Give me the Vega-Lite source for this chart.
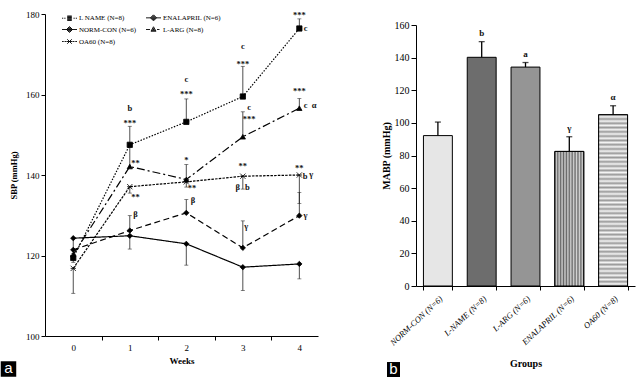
{
 "$schema": "https://vega.github.io/schema/vega-lite/v6.json",
 "background": "white",
 "padding": {"left": 0, "top": 10, "right": 5, "bottom": 0},
 "spacing": 63,
 "config": {
  "font": "Liberation Serif",
  "view": {"stroke": null},
  "axis": {"grid": false, "domainColor": "#000", "tickColor": "#000", "labelColor": "#000", "titleColor": "#000", "labelFont": "Liberation Serif", "titleFont": "Liberation Serif", "domainWidth": 1, "tickWidth": 1}
 },
 "hconcat": [
  {
   "width": 273, "height": 322,
   "data": {"values": [
    {"group": "L NAME (N=8)", "week": 0, "sbp": 119.4, "err": 118.3},
    {"group": "L NAME (N=8)", "week": 1, "sbp": 147.5, "err": 152.1},
    {"group": "L NAME (N=8)", "week": 2, "sbp": 153.2, "err": 158.9},
    {"group": "L NAME (N=8)", "week": 3, "sbp": 159.5, "err": 167.0},
    {"group": "L NAME (N=8)", "week": 4, "sbp": 176.4, "err": 178.8},
    {"group": "L-ARG (N=8)", "week": 0, "sbp": 120.2, "err": null},
    {"group": "L-ARG (N=8)", "week": 1, "sbp": 142.1, "err": 147.0},
    {"group": "L-ARG (N=8)", "week": 2, "sbp": 138.9, "err": 142.6},
    {"group": "L-ARG (N=8)", "week": 3, "sbp": 149.5, "err": 155.7},
    {"group": "L-ARG (N=8)", "week": 4, "sbp": 156.6, "err": 159.0},
    {"group": "OA60 (N=8)", "week": 0, "sbp": 116.8, "err": 110.6},
    {"group": "OA60 (N=8)", "week": 1, "sbp": 137.1, "err": 135.5},
    {"group": "OA60 (N=8)", "week": 2, "sbp": 138.3, "err": 137.0},
    {"group": "OA60 (N=8)", "week": 3, "sbp": 139.7, "err": 136.5},
    {"group": "OA60 (N=8)", "week": 4, "sbp": 140.0, "err": 132.9},
    {"group": "ENALAPRIL (N=6)", "week": 0, "sbp": 121.4, "err": null},
    {"group": "ENALAPRIL (N=6)", "week": 1, "sbp": 126.2, "err": 129.9},
    {"group": "ENALAPRIL (N=6)", "week": 2, "sbp": 130.6, "err": 133.9},
    {"group": "ENALAPRIL (N=6)", "week": 3, "sbp": 121.9, "err": 128.6},
    {"group": "ENALAPRIL (N=6)", "week": 4, "sbp": 129.9, "err": 135.7},
    {"group": "NORM-CON (N=6)", "week": 0, "sbp": 124.3, "err": 120.5},
    {"group": "NORM-CON (N=6)", "week": 1, "sbp": 124.9, "err": 121.6},
    {"group": "NORM-CON (N=6)", "week": 2, "sbp": 122.9, "err": 117.6},
    {"group": "NORM-CON (N=6)", "week": 3, "sbp": 117.1, "err": 111.3},
    {"group": "NORM-CON (N=6)", "week": 4, "sbp": 117.9, "err": 114.2}
   ]},
   "layer": [
    {
     "mark": {"type": "line", "color": "#000", "strokeWidth": 1.2},
     "encoding": {
      "x": {"field": "week", "type": "quantitative", "scale": {"domain": [-0.5, 4.33], "nice": false, "zero": false},
            "axis": {"orient": "bottom", "values": [0, 1, 2, 3, 4], "format": "d", "ticks": false, "title": "Weeks", "labelFontSize": 9, "titleFontSize": 9, "titleFontWeight": "bold", "labelPadding": 7, "titlePadding": 4}},
      "y": {"field": "sbp", "type": "quantitative", "scale": {"domain": [100, 180], "nice": false, "zero": false},
            "axis": {"values": [100, 120, 140, 160, 180], "title": "SBP (mmHg)", "labelFontSize": 9, "titleFontSize": 8.5, "titleFontWeight": "bold", "tickSize": 4, "labelPadding": 2, "titlePadding": 7}},
      "strokeDash": {"field": "group", "type": "nominal",
            "scale": {"domain": ["L NAME (N=8)", "ENALAPRIL (N=6)", "NORM-CON (N=6)", "L-ARG (N=8)", "OA60 (N=8)"], "range": [[1.5, 1.5], [6, 3.5], [1, 0], [8, 3, 2, 3], [2.5, 1.2]]},
            "legend": null}
     }
    },
    {
     "transform": [{"filter": "datum.err != null"}],
     "mark": {"type": "rule", "color": "#222", "strokeWidth": 0.8},
     "encoding": {
      "x": {"field": "week", "type": "quantitative", "axis": {"orient": "bottom", "values": [0.5, 1.5, 2.5, 3.5], "labels": false, "domain": false, "tickSize": 4, "title": null}},
      "y": {"field": "sbp", "type": "quantitative", "axis": {"values": [100, 120, 140, 160, 180], "title": "SBP (mmHg)", "labelFontSize": 9, "titleFontSize": 8.5, "titleFontWeight": "bold", "tickSize": 4, "labelPadding": 2, "titlePadding": 7}},
      "y2": {"field": "err"}
     }
    },
    {
     "transform": [{"filter": "datum.err != null"}],
     "mark": {"type": "tick", "orient": "horizontal", "color": "#222", "size": 4, "thickness": 0.8},
     "encoding": {
      "x": {"field": "week", "type": "quantitative", "axis": null},
      "y": {"field": "err", "type": "quantitative", "axis": {"values": [100, 120, 140, 160, 180], "title": "SBP (mmHg)", "labelFontSize": 9, "titleFontSize": 8.5, "titleFontWeight": "bold", "tickSize": 4, "labelPadding": 2, "titlePadding": 7}}
     }
    },
    {
     "mark": {"type": "point", "filled": true, "size": 28, "fill": "#000", "stroke": "#000", "strokeWidth": 0.8, "opacity": 1},
     "encoding": {
      "x": {"field": "week", "type": "quantitative", "axis": null},
      "y": {"field": "sbp", "type": "quantitative", "axis": {"values": [100, 120, 140, 160, 180], "title": "SBP (mmHg)", "labelFontSize": 9, "titleFontSize": 8.5, "titleFontWeight": "bold", "tickSize": 4, "labelPadding": 2, "titlePadding": 7}},
      "shape": {"field": "group", "type": "nominal",
            "scale": {"domain": ["L NAME (N=8)", "ENALAPRIL (N=6)", "NORM-CON (N=6)", "L-ARG (N=8)", "OA60 (N=8)"], "range": ["square", "diamond", "diamond", "triangle-up", "M-1,-1L1,1M-1,1L1,-1M-1,0L1,0"]},
            "legend": null}
     }
    },
    {
     "mark": {"type": "point", "filled": false, "opacity": 0, "color": "#000", "strokeWidth": 0.9},
     "encoding": {
      "x": {"field": "week", "type": "quantitative", "axis": null},
      "y": {"field": "sbp", "type": "quantitative", "axis": {"values": [100, 120, 140, 160, 180], "title": "SBP (mmHg)", "labelFontSize": 9, "titleFontSize": 8.5, "titleFontWeight": "bold", "tickSize": 4, "labelPadding": 2, "titlePadding": 7}},
      "shape": {"field": "group", "type": "nominal",
            "scale": {"domain": ["L NAME (N=8)", "ENALAPRIL (N=6)", "NORM-CON (N=6)", "L-ARG (N=8)", "OA60 (N=8)"],
                      "range": [
                       "M-1.5,0h0.25M-1.05,0h0.25M0.8,0h0.25M1.25,0h0.25M-0.45,-0.45h0.9M-0.45,-0.3h0.9M-0.45,-0.15h0.9M-0.45,0h0.9M-0.45,0.15h0.9M-0.45,0.3h0.9M-0.45,0.45h0.9",
                       "M-1.5,0H1.5M0,-0.6L0.6,0L0,0.6L-0.6,0ZM-0.4,-0.17h0.8M-0.4,0.17h0.8M-0.2,-0.35h0.4M-0.2,0.35h0.4",
                       "M-1.5,0H1.5M0,-0.6L0.6,0L0,0.6L-0.6,0ZM-0.4,-0.17h0.8M-0.4,0.17h0.8M-0.2,-0.35h0.4M-0.2,0.35h0.4",
                       "M-1.5,0h0.8M0.7,0h0.5M0,-0.55L0.5,0.35L-0.5,0.35ZM-0.35,0.18h0.7M-0.2,0h0.4M-0.08,-0.18h0.16",
                       "M-1.5,0h0.35M-1,0h0.35M0.65,0h0.35M1.15,0h0.35M-0.45,-0.45L0.45,0.45M-0.45,0.45L0.45,-0.45M-0.6,0H0.6"
                      ]},
            "legend": {"title": null, "orient": "none", "legendX": 19, "legendY": -2, "columns": 2, "direction": "horizontal", "symbolSize": 100, "symbolStrokeColor": "#000", "symbolStrokeWidth": 0.9, "symbolOpacity": 1, "labelFontSize": 7, "labelFont": "Liberation Serif", "labelColor": "#000", "labelOffset": 4, "columnPadding": 7, "rowPadding": 1, "labelLimit": 200}}
     }
    },
    {
     "data": {"values": [
      {"week": 1, "sbp": 156.6, "t": "b"}, {"week": 1, "sbp": 153.7, "t": "***"}, {"week": 1.1, "sbp": 143.7, "t": "**"}, {"week": 1.1, "sbp": 135.3, "t": "**"}, {"week": 1.1, "sbp": 130.3, "t": "β"},
      {"week": 2, "sbp": 163.9, "t": "c"}, {"week": 2, "sbp": 160.9, "t": "***"}, {"week": 2, "sbp": 144.4, "t": "*"}, {"week": 2.1, "sbp": 137.5, "t": "**"}, {"week": 2.12, "sbp": 133.9, "t": "β"},
      {"week": 3, "sbp": 172.1, "t": "c"}, {"week": 3, "sbp": 168.4, "t": "***"}, {"week": 3.11, "sbp": 157.0, "t": "c"}, {"week": 3.11, "sbp": 154.7, "t": "***"}, {"week": 3, "sbp": 142.9, "t": "**"}, {"week": 2.91, "sbp": 137.0, "t": "β"}, {"week": 3.08, "sbp": 137.0, "t": "b"}, {"week": 3.06, "sbp": 127.4, "t": "γ"},
      {"week": 4, "sbp": 180.6, "t": "***"}, {"week": 4.11, "sbp": 176.4, "t": "c"}, {"week": 4, "sbp": 161.5, "t": "***"}, {"week": 4.11, "sbp": 157.4, "t": "c"}, {"week": 4.26, "sbp": 157.4, "t": "α"}, {"week": 4, "sbp": 142.4, "t": "**"}, {"week": 4.1, "sbp": 139.7, "t": "b"}, {"week": 4.21, "sbp": 140.2, "t": "γ"}, {"week": 4.11, "sbp": 130.0, "t": "γ"}
     ]},
     "layer": [
      {
       "transform": [{"filter": "indexof(datum.t, '*') < 0"}],
       "mark": {"type": "text", "fontSize": 8.5, "fontWeight": "bold", "color": "#111"},
       "encoding": {
        "x": {"field": "week", "type": "quantitative", "axis": null},
        "y": {"field": "sbp", "type": "quantitative", "axis": {"values": [100, 120, 140, 160, 180], "title": "SBP (mmHg)", "labelFontSize": 9, "titleFontSize": 8.5, "titleFontWeight": "bold", "tickSize": 4, "labelPadding": 2, "titlePadding": 7}},
        "text": {"field": "t"}
       }
      },
      {
       "transform": [{"filter": "indexof(datum.t, '*') >= 0"}],
       "mark": {"type": "text", "fontSize": 8.5, "fontWeight": "bold", "color": "#111", "dy": 3},
       "encoding": {
        "x": {"field": "week", "type": "quantitative", "axis": null},
        "y": {"field": "sbp", "type": "quantitative", "axis": {"values": [100, 120, 140, 160, 180], "title": "SBP (mmHg)", "labelFontSize": 9, "titleFontSize": 8.5, "titleFontWeight": "bold", "tickSize": 4, "labelPadding": 2, "titlePadding": 7}},
        "text": {"field": "t"}
       }
      }
     ]
    },
    {
     "data": {"values": [{"panel": "a"}]},
     "layer": [
      {
       "mark": {"type": "point", "shape": "square", "filled": true, "size": 240, "color": "#000", "opacity": 1},
       "encoding": {
        "x": {"datum": -1.146, "type": "quantitative", "scale": {"domain": [-0.5, 4.33], "nice": false, "zero": false}, "axis": null},
        "y": {"datum": 91.8, "type": "quantitative", "scale": {"domain": [100, 180], "nice": false, "zero": false}, "axis": {"values": [100, 120, 140, 160, 180], "title": "SBP (mmHg)", "labelFontSize": 9, "titleFontSize": 8.5, "titleFontWeight": "bold", "tickSize": 4, "labelPadding": 2, "titlePadding": 7}}
       }
      },
      {
       "mark": {"type": "text", "font": "Liberation Sans", "fontSize": 15, "color": "#fff", "baseline": "middle", "dy": -1},
       "encoding": {
        "x": {"datum": -1.146, "type": "quantitative", "scale": {"domain": [-0.5, 4.33], "nice": false, "zero": false}, "axis": null},
        "y": {"datum": 91.8, "type": "quantitative", "scale": {"domain": [100, 180], "nice": false, "zero": false}, "axis": {"values": [100, 120, 140, 160, 180], "title": "SBP (mmHg)", "labelFontSize": 9, "titleFontSize": 8.5, "titleFontWeight": "bold", "tickSize": 4, "labelPadding": 2, "titlePadding": 7}},
        "text": {"field": "panel"}
       }
      }
     ]
    }
   ],
   "resolve": {"axis": {"x": "independent"}, "scale": {"shape": "independent"}}
  },
  {
   "width": 219, "height": 272,
   "data": {"values": [
    {"grp": "NORM-CON (N=6)", "mabp": 92.2, "hi": 100.5, "sig": "", "panel": "b"},
    {"grp": "L-NAME (N=8)", "mabp": 140.2, "hi": 149.8, "sig": "b", "panel": ""},
    {"grp": "L-ARG (N=6)", "mabp": 134.2, "hi": 137.0, "sig": "a", "panel": ""},
    {"grp": "ENALAPRIL (N=6)", "mabp": 82.5, "hi": 91.5, "sig": "γ", "panel": ""},
    {"grp": "OA60 (N=8)", "mabp": 105.0, "hi": 110.5, "sig": "α", "panel": ""}
   ]},
   "encoding": {
    "x": {"field": "grp", "type": "nominal", "sort": null, "scale": {"paddingInner": 0.34, "paddingOuter": 0.17},
          "axis": {"title": "Groups", "labelAngle": -43, "labelFontStyle": "italic", "labelFontSize": 8.5, "titleFontSize": 10, "titleFontWeight": "bold", "tickBand": "extent", "tickSize": 4, "labelPadding": 4, "titlePadding": 12}},
    "y": {"field": "mabp", "type": "quantitative", "scale": {"domain": [0, 160], "nice": false, "range": [272, 11]},
          "axis": {"values": [0, 20, 40, 60, 80, 100, 120, 140, 160], "title": "MABP (mmHg)", "labelFontSize": 10, "titleFontSize": 10, "titleFontWeight": "bold", "tickSize": 5, "labelPadding": 2, "titlePadding": 3}}
   },
   "layer": [
    {
     "mark": {"type": "bar", "stroke": "#000", "strokeWidth": 1},
     "encoding": {
      "color": {"field": "grp", "type": "nominal", "scale": {"domain": ["NORM-CON (N=6)", "L-NAME (N=8)", "L-ARG (N=6)", "ENALAPRIL (N=6)", "OA60 (N=8)"], "range": ["#e6e6e6", "#6d6d6d", "#959595", "#a0a0a0", "#d8d8d8"]}, "legend": null}
     }
    },
    {
     "transform": [{"filter": "datum.grp == 'ENALAPRIL (N=6)'"}],
     "mark": {"type": "bar", "stroke": "#000", "strokeWidth": 1,
      "color": {"gradient": "linear", "x1": 0, "y1": 0, "x2": 1, "y2": 0, "stops": [
       {"offset": 0, "color": "#666"}, {"offset": 0.05, "color": "#d4d4d4"}, {"offset": 0.1, "color": "#666"}, {"offset": 0.15, "color": "#d4d4d4"}, {"offset": 0.2, "color": "#666"}, {"offset": 0.25, "color": "#d4d4d4"}, {"offset": 0.3, "color": "#666"}, {"offset": 0.35, "color": "#d4d4d4"}, {"offset": 0.4, "color": "#666"}, {"offset": 0.45, "color": "#d4d4d4"}, {"offset": 0.5, "color": "#666"}, {"offset": 0.55, "color": "#d4d4d4"}, {"offset": 0.6, "color": "#666"}, {"offset": 0.65, "color": "#d4d4d4"}, {"offset": 0.7, "color": "#666"}, {"offset": 0.75, "color": "#d4d4d4"}, {"offset": 0.8, "color": "#666"}, {"offset": 0.85, "color": "#d4d4d4"}, {"offset": 0.9, "color": "#666"}, {"offset": 0.95, "color": "#d4d4d4"}, {"offset": 1, "color": "#666"}
      ]}}
    },
    {
     "transform": [{"filter": "datum.grp == 'OA60 (N=8)'"}],
     "mark": {"type": "bar", "stroke": "#000", "strokeWidth": 1,
      "color": {"gradient": "linear", "x1": 0, "y1": 0, "x2": 0, "y2": 1, "stops": [
       {"offset": 0, "color": "#999"}, {"offset": 0.0125, "color": "#f5f5f5"}, {"offset": 0.025, "color": "#999"}, {"offset": 0.0375, "color": "#f5f5f5"}, {"offset": 0.05, "color": "#999"}, {"offset": 0.0625, "color": "#f5f5f5"}, {"offset": 0.075, "color": "#999"}, {"offset": 0.0875, "color": "#f5f5f5"}, {"offset": 0.1, "color": "#999"}, {"offset": 0.1125, "color": "#f5f5f5"}, {"offset": 0.125, "color": "#999"}, {"offset": 0.1375, "color": "#f5f5f5"}, {"offset": 0.15, "color": "#999"}, {"offset": 0.1625, "color": "#f5f5f5"}, {"offset": 0.175, "color": "#999"}, {"offset": 0.1875, "color": "#f5f5f5"}, {"offset": 0.2, "color": "#999"}, {"offset": 0.2125, "color": "#f5f5f5"}, {"offset": 0.225, "color": "#999"}, {"offset": 0.2375, "color": "#f5f5f5"}, {"offset": 0.25, "color": "#999"}, {"offset": 0.2625, "color": "#f5f5f5"}, {"offset": 0.275, "color": "#999"}, {"offset": 0.2875, "color": "#f5f5f5"}, {"offset": 0.3, "color": "#999"}, {"offset": 0.3125, "color": "#f5f5f5"}, {"offset": 0.325, "color": "#999"}, {"offset": 0.3375, "color": "#f5f5f5"}, {"offset": 0.35, "color": "#999"}, {"offset": 0.3625, "color": "#f5f5f5"}, {"offset": 0.375, "color": "#999"}, {"offset": 0.3875, "color": "#f5f5f5"}, {"offset": 0.4, "color": "#999"}, {"offset": 0.4125, "color": "#f5f5f5"}, {"offset": 0.425, "color": "#999"}, {"offset": 0.4375, "color": "#f5f5f5"}, {"offset": 0.45, "color": "#999"}, {"offset": 0.4625, "color": "#f5f5f5"}, {"offset": 0.475, "color": "#999"}, {"offset": 0.4875, "color": "#f5f5f5"}, {"offset": 0.5, "color": "#999"}, {"offset": 0.5125, "color": "#f5f5f5"}, {"offset": 0.525, "color": "#999"}, {"offset": 0.5375, "color": "#f5f5f5"}, {"offset": 0.55, "color": "#999"}, {"offset": 0.5625, "color": "#f5f5f5"}, {"offset": 0.575, "color": "#999"}, {"offset": 0.5875, "color": "#f5f5f5"}, {"offset": 0.6, "color": "#999"}, {"offset": 0.6125, "color": "#f5f5f5"}, {"offset": 0.625, "color": "#999"}, {"offset": 0.6375, "color": "#f5f5f5"}, {"offset": 0.65, "color": "#999"}, {"offset": 0.6625, "color": "#f5f5f5"}, {"offset": 0.675, "color": "#999"}, {"offset": 0.6875, "color": "#f5f5f5"}, {"offset": 0.7, "color": "#999"}, {"offset": 0.7125, "color": "#f5f5f5"}, {"offset": 0.725, "color": "#999"}, {"offset": 0.7375, "color": "#f5f5f5"}, {"offset": 0.75, "color": "#999"}, {"offset": 0.7625, "color": "#f5f5f5"}, {"offset": 0.775, "color": "#999"}, {"offset": 0.7875, "color": "#f5f5f5"}, {"offset": 0.8, "color": "#999"}, {"offset": 0.8125, "color": "#f5f5f5"}, {"offset": 0.825, "color": "#999"}, {"offset": 0.8375, "color": "#f5f5f5"}, {"offset": 0.85, "color": "#999"}, {"offset": 0.8625, "color": "#f5f5f5"}, {"offset": 0.875, "color": "#999"}, {"offset": 0.8875, "color": "#f5f5f5"}, {"offset": 0.9, "color": "#999"}, {"offset": 0.9125, "color": "#f5f5f5"}, {"offset": 0.925, "color": "#999"}, {"offset": 0.9375, "color": "#f5f5f5"}, {"offset": 0.95, "color": "#999"}, {"offset": 0.9625, "color": "#f5f5f5"}, {"offset": 0.975, "color": "#999"}, {"offset": 0.9875, "color": "#f5f5f5"}, {"offset": 1, "color": "#999"}
      ]}}
    },
    {
     "mark": {"type": "rule", "color": "#000", "strokeWidth": 1.3},
     "encoding": {"y2": {"field": "hi"}}
    },
    {
     "mark": {"type": "tick", "orient": "horizontal", "color": "#000", "size": 6, "thickness": 1.3},
     "encoding": {"y": {"field": "hi", "type": "quantitative", "scale": {"domain": [0, 160], "nice": false, "range": [272, 11]}, "axis": {"values": [0, 20, 40, 60, 80, 100, 120, 140, 160], "title": "MABP (mmHg)", "labelFontSize": 10, "titleFontSize": 10, "titleFontWeight": "bold", "tickSize": 5, "labelPadding": 2, "titlePadding": 3}}}
    },
    {
     "mark": {"type": "text", "fontSize": 9, "fontWeight": "bold", "color": "#111", "dy": -9},
     "encoding": {"y": {"field": "hi", "type": "quantitative", "scale": {"domain": [0, 160], "nice": false, "range": [272, 11]}, "axis": {"values": [0, 20, 40, 60, 80, 100, 120, 140, 160], "title": "MABP (mmHg)", "labelFontSize": 10, "titleFontSize": 10, "titleFontWeight": "bold", "tickSize": 5, "labelPadding": 2, "titlePadding": 3}}, "text": {"field": "sig"}}
    },
    {
     "transform": [{"filter": "datum.panel == 'b'"}],
     "mark": {"type": "point", "shape": "M-7.27,-1.07H-5.41V1.07H-7.27Z", "filled": true, "size": 196, "color": "#000", "opacity": 1},
     "encoding": {
      "y": {"datum": -51.2, "type": "quantitative", "scale": {"domain": [0, 160], "nice": false, "range": [272, 11]}, "axis": {"values": [0, 20, 40, 60, 80, 100, 120, 140, 160], "title": "MABP (mmHg)", "labelFontSize": 10, "titleFontSize": 10, "titleFontWeight": "bold", "tickSize": 5, "labelPadding": 2, "titlePadding": 3}}
     }
    },
    {
     "transform": [{"filter": "datum.panel == 'b'"}],
     "mark": {"type": "text", "font": "Liberation Sans", "fontSize": 15, "color": "#fff", "baseline": "middle", "dx": -44.5, "dy": -1},
     "encoding": {
      "y": {"datum": -51.2, "type": "quantitative", "scale": {"domain": [0, 160], "nice": false, "range": [272, 11]}, "axis": {"values": [0, 20, 40, 60, 80, 100, 120, 140, 160], "title": "MABP (mmHg)", "labelFontSize": 10, "titleFontSize": 10, "titleFontWeight": "bold", "tickSize": 5, "labelPadding": 2, "titlePadding": 3}},
      "text": {"field": "panel"}
     }
    }
   ]
  }
 ]
}
